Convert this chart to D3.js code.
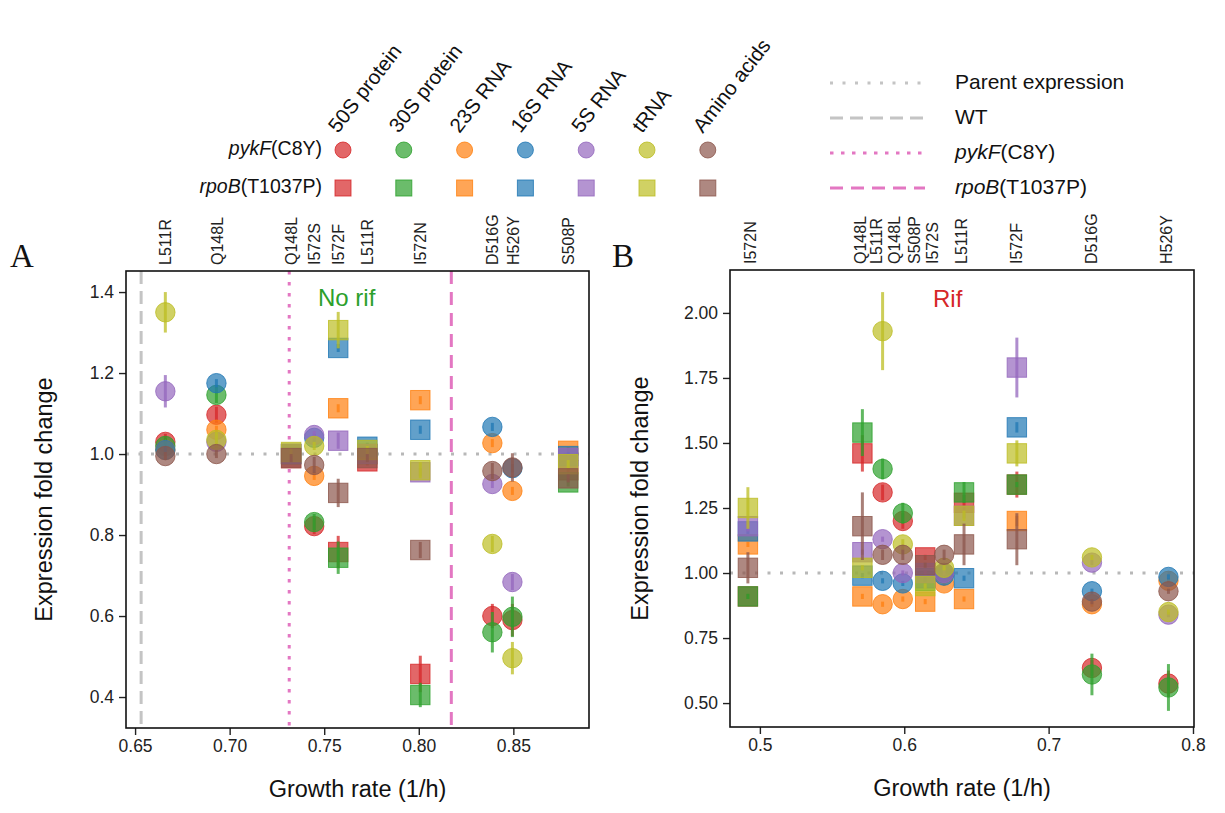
<!DOCTYPE html>
<html><head><meta charset="utf-8">
<script src="https://cdnjs.cloudflare.com/ajax/libs/d3/7.8.5/d3.min.js"></script>
<style>body{margin:0;background:#fff} svg{font-family:"Liberation Sans",Arial,sans-serif}</style>
</head><body><svg id="c" width="1225" height="813"></svg>
<script>
// ---------- DATA ----------
const categories = ["50S protein","30S protein","23S RNA","16S RNA","5S RNA","tRNA","Amino acids"];
const catColors = ["#d62728","#2ca02c","#ff7f0e","#1f77b4","#9467bd","#bcbd22","#8c564b"];

// Panel A (No rif)
const aGrowth = [0.666,0.693,0.7325,0.7447,0.7574,0.7728,0.8008,0.8389,0.8495,0.879];
const aStrain = ["pykF","pykF","rpoB","pykF","rpoB","rpoB","rpoB","pykF","pykF","rpoB"];
const aLabels = ["L511R","Q148L","Q148L","I572S","I572F","L511R","I572N","D516G","H526Y","S508P"];
const a50S  = [1.03,1.097,0.99,0.822,0.758,0.982,0.457,0.60,0.59,0.96];
const a30S  = [1.02,1.146,1.0,0.832,0.744,1.0,0.405,0.56,0.598,0.93];
const a23S  = [1.01,1.06,1.0,0.946,1.113,1.0,1.133,1.027,0.909,1.008];
const a16S  = [1.01,1.175,1.0,1.04,1.262,1.018,1.06,1.067,0.965,0.995];
const a5S   = [1.155,1.03,1.0,1.047,1.033,1.0,0.955,0.926,0.684,0.99];
const aTRNA = [1.35,1.035,1.005,1.02,1.306,1.01,0.96,0.778,0.496,0.975];
const aAA   = [0.995,1.0,0.99,0.973,0.904,0.99,0.763,0.958,0.967,0.94];
const aErr50S  = [0.02,0.02,0.01,0.02,0.04,0.01,0.045,0.03,0.04,0.01];
const aErr30S  = [0.02,0.02,0.01,0.02,0.04,0.01,0.03,0.05,0.05,0.01];
const aErr23S  = [0.01,0.01,0.01,0.01,0.01,0.01,0.01,0.01,0.01,0.01];
const aErr16S  = [0.01,0.01,0.01,0.01,0.01,0.01,0.01,0.01,0.01,0.01];
const aErr5S   = [0.04,0.01,0.01,0.01,0.02,0.01,0.01,0.01,0.02,0.01];
const aErrTRNA = [0.05,0.02,0.01,0.01,0.045,0.01,0.02,0.02,0.04,0.01];
const aErrAA   = [0.01,0.01,0.01,0.02,0.035,0.01,0.02,0.02,0.035,0.01];

// Panel B (Rif)
const bGrowth = [0.4917,0.571,0.585,0.599,0.6145,0.6276,0.6414,0.678,0.730,0.783];
const bStrain = ["rpoB","rpoB","pykF","pykF","rpoB","pykF","rpoB","rpoB","pykF","pykF"];
const bLabelPos = [0.4931,0.569,0.5807,0.5931,0.6069,0.6193,0.6393,0.6772,0.729,0.7814];
const bLabels = ["I572N","Q148L","L511R","Q148L","S508P","I572S","L511R","I572F","D516G","H526Y"];
const b50S  = [0.91,1.46,1.31,1.20,1.06,1.00,1.27,1.34,0.635,0.575];
const b30S  = [0.91,1.54,1.40,1.23,0.97,1.00,1.31,1.34,0.61,0.56];
const b23S  = [1.11,0.91,0.88,0.90,0.89,0.96,0.90,1.20,0.88,0.97];
const b16S  = [1.16,0.99,0.97,0.96,0.98,0.99,0.98,1.56,0.93,0.985];
const b5S   = [1.18,1.08,1.13,1.00,1.00,1.00,1.22,1.79,1.04,0.84];
const bTRNA = [1.25,1.02,1.93,1.11,0.95,1.02,1.22,1.46,1.06,0.85];
const bAA   = [1.02,1.18,1.07,1.07,1.03,1.07,1.11,1.13,0.89,0.93];
const bErr50S  = [0.01,0.07,0.03,0.03,0.01,0.01,0.03,0.05,0.03,0.05];
const bErr30S  = [0.01,0.09,0.04,0.04,0.01,0.01,0.04,0.01,0.08,0.09];
const bErr23S  = [0.01,0.01,0.01,0.01,0.01,0.01,0.01,0.02,0.01,0.01];
const bErr16S  = [0.01,0.01,0.01,0.01,0.01,0.01,0.01,0.02,0.01,0.01];
const bErr5S   = [0.02,0.01,0.01,0.01,0.01,0.01,0.01,0.115,0.01,0.01];
const bErrTRNA = [0.08,0.01,0.15,0.02,0.01,0.01,0.02,0.05,0.01,0.01];
const bErrAA   = [0.06,0.13,0.02,0.02,0.01,0.02,0.08,0.10,0.01,0.01];

// reference lines (growth rates)
const wtGrowth = 0.6532, pykFGrowth = 0.7315, rpoBGrowth = 0.8172;

const aTicksY = [0.4,0.6,0.8,1.0,1.2,1.4];
const aTicksX = [0.65,0.70,0.75,0.80,0.85];
const bTicksY = [0.50,0.75,1.00,1.25,1.50,1.75,2.00];
const bTicksX = [0.5,0.6,0.7,0.8];

// ---------- DRAW ----------
const svg = d3.select("#c");
const FONT = "Liberation Sans, Arial, sans-serif";

function panel(opt){
  const x = d3.scaleLinear().domain(opt.xd).range([opt.l, opt.r]);
  const y = d3.scaleLinear().domain(opt.yd).range([opt.b, opt.t]);
  const g = svg.append("g");
  const ax = g.append("g").attr("transform",`translate(0,${opt.b})`)
    .call(d3.axisBottom(x).tickValues(opt.xt).tickFormat(opt.xf).tickSize(7).tickPadding(5));
  const ay = g.append("g").attr("transform",`translate(${opt.l},0)`)
    .call(d3.axisLeft(y).tickValues(opt.yt).tickFormat(opt.yf).tickSize(7).tickPadding(5));
  [ax,ay].forEach(a=>{a.select(".domain").remove();
    a.selectAll("text").attr("font-size",17.5).attr("font-family",FONT).attr("fill","#222");
    a.selectAll("line").attr("stroke","#222").attr("stroke-width",1.4);});
  const at = g.append("g").attr("transform",`translate(0,${opt.t})`)
    .call(d3.axisTop(x).tickValues(opt.topPos).tickFormat((d,i)=>opt.topLab[i]).tickSize(0).tickPadding(0));
  at.select(".domain").remove();
  at.selectAll("text").attr("font-size",16).attr("font-family",FONT).attr("fill","#222")
    .attr("transform","rotate(-90)").attr("text-anchor","start").attr("x",6).attr("dy","0.35em").attr("y",0);
  const cid = "clip"+opt.id;
  g.append("clipPath").attr("id",cid).append("rect")
    .attr("x",opt.l).attr("y",opt.t).attr("width",opt.r-opt.l).attr("height",opt.b-opt.t);
  const inner = g.append("g").attr("clip-path",`url(#${cid})`);
  inner.append("line").attr("x1",opt.l).attr("x2",opt.r).attr("y1",y(1)).attr("y2",y(1))
    .attr("stroke","#b8b8b8").attr("stroke-width",3).attr("stroke-dasharray","3,9.5");
  (opt.vlines||[]).forEach(v=>{
    inner.append("line").attr("x1",x(v.x)).attr("x2",x(v.x)).attr("y1",opt.t).attr("y2",opt.b)
      .attr("stroke",v.c).attr("stroke-width",3).attr("stroke-dasharray",v.d);
  });
  opt.series.forEach((s,ci)=>{
    const col = catColors[ci];
    s.v.forEach((v,i)=>{
      const cx = x(opt.gx[i]), cy = y(v), e = s.e[i];
      inner.append("line").attr("x1",cx).attr("x2",cx).attr("y1",y(v-e)).attr("y2",y(v+e))
        .attr("stroke",col).attr("stroke-width",3).attr("stroke-opacity",0.75);
      if(opt.strain[i]==="pykF"){
        inner.append("circle").attr("cx",cx).attr("cy",cy).attr("r",9.7)
          .attr("fill",col).attr("fill-opacity",0.7).attr("stroke",col).attr("stroke-opacity",0.8).attr("stroke-width",1);
      } else {
        inner.append("rect").attr("x",cx-9.7).attr("y",cy-9.7).attr("width",19.4).attr("height",19.4)
          .attr("fill",col).attr("fill-opacity",0.7).attr("stroke",col).attr("stroke-opacity",0.8).attr("stroke-width",1);
      }
    });
  });
  g.append("rect").attr("x",opt.l).attr("y",opt.t).attr("width",opt.r-opt.l).attr("height",opt.b-opt.t)
    .attr("fill","none").attr("stroke","#111").attr("stroke-width",1.6);
  g.append("text").attr("x",(opt.l+opt.r)/2).attr("y",opt.b+69).attr("text-anchor","middle")
    .attr("font-size",23.5).attr("fill","#111").text("Growth rate (1/h)");
  g.append("text").attr("transform",`translate(${opt.ytx},${(opt.t+opt.b)/2}) rotate(-90)`)
    .attr("text-anchor","middle").attr("font-size",23.5).attr("fill","#111").text("Expression fold change");
  g.append("text").attr("x",opt.tag[1]).attr("y",opt.tag[2]).attr("font-family","Liberation Serif, Times New Roman, serif")
    .attr("font-size",33).attr("fill","#111").text(opt.tag[0]);
  g.append("text").attr("x",opt.note[1]).attr("y",opt.note[2]).attr("font-size",24).attr("fill",opt.note[3]).text(opt.note[0]);
}

panel({id:"A", l:126, r:589, t:271, b:728, xd:[0.6452,0.890], yd:[0.3235,1.452],
  xt:aTicksX, xf:d3.format(".2f"), yt:aTicksY, yf:d3.format(".1f"),
  topPos:aGrowth, topLab:aLabels, gx:aGrowth, strain:aStrain,
  series:[{v:a50S,e:aErr50S},{v:a30S,e:aErr30S},{v:a23S,e:aErr23S},{v:a16S,e:aErr16S},{v:a5S,e:aErr5S},{v:aTRNA,e:aErrTRNA},{v:aAA,e:aErrAA}],
  vlines:[{x:wtGrowth,c:"#c4c4c4",d:"13,7"},{x:pykFGrowth,c:"#e377c2",d:"3.5,7.5"},{x:rpoBGrowth,c:"#e377c2",d:"13,8"}],
  ytx:52, tag:["A",10,267], note:["No rif",318,306,"#2ca02c"]});

panel({id:"B", l:730, r:1194, t:270, b:727, xd:[0.4793,0.8007], yd:[0.408,2.165],
  xt:bTicksX, xf:d3.format(".1f"), yt:bTicksY, yf:d3.format(".2f"),
  topPos:bLabelPos, topLab:bLabels, gx:bGrowth, strain:bStrain,
  series:[{v:b50S,e:bErr50S},{v:b30S,e:bErr30S},{v:b23S,e:bErr23S},{v:b16S,e:bErr16S},{v:b5S,e:bErr5S},{v:bTRNA,e:bErrTRNA},{v:bAA,e:bErrAA}],
  vlines:[], ytx:648, tag:["B",612,267], note:["Rif",933,307,"#d62728"]});

// ---------- LEGEND ----------
const lg = svg.append("g").attr("font-family",FONT);
const legX0 = 343, legDX = 60.8, rowC = 150, rowS = 188;
categories.forEach((c,i)=>{
  const cx = legX0 + i*legDX, col = catColors[i];
  lg.append("text").attr("transform",`translate(${cx-5},${rowC-16}) rotate(-52)`)
    .attr("font-size",20.5).attr("fill","#111").text(c);
  lg.append("circle").attr("cx",cx).attr("cy",rowC).attr("r",8)
    .attr("fill",col).attr("fill-opacity",0.7).attr("stroke",col).attr("stroke-opacity",0.8);
  lg.append("rect").attr("x",cx-8).attr("y",rowS-8).attr("width",16).attr("height",16)
    .attr("fill",col).attr("fill-opacity",0.7).attr("stroke",col).attr("stroke-opacity",0.8);
});
function strainLabel(g,x,y,gene,mut,anchor,size){
  const t = g.append("text").attr("x",x).attr("y",y).attr("text-anchor",anchor)
    .attr("dominant-baseline","middle").attr("font-size",size).attr("fill","#111");
  t.append("tspan").attr("font-style","italic").text(gene);
  t.append("tspan").text(mut);
}
strainLabel(lg,322,rowC,"pykF","(C8Y)","end",19.5);
strainLabel(lg,322,rowS,"rpoB","(T1037P)","end",19.5);

const lineLeg = [
  {c:"#c4c4c4",d:"3,9.5"},{c:"#c4c4c4",d:"13,7"},{c:"#e377c2",d:"3.5,7.5"},{c:"#e377c2",d:"13,8"}];
const lineRows = [83,118,153,188];
lineLeg.forEach((l,i)=>{
  lg.append("line").attr("x1",830).attr("x2",925).attr("y1",lineRows[i]).attr("y2",lineRows[i])
    .attr("stroke",l.c).attr("stroke-width",3).attr("stroke-dasharray",l.d);
});
lg.append("text").attr("x",955).attr("y",lineRows[0]).attr("dominant-baseline","middle").attr("font-size",21).attr("fill","#111").text("Parent expression");
lg.append("text").attr("x",955).attr("y",lineRows[1]).attr("dominant-baseline","middle").attr("font-size",21).attr("fill","#111").text("WT");
strainLabel(lg,955,lineRows[2],"pykF","(C8Y)","start",21);
strainLabel(lg,955,lineRows[3],"rpoB","(T1037P)","start",21);
</script></body></html>
